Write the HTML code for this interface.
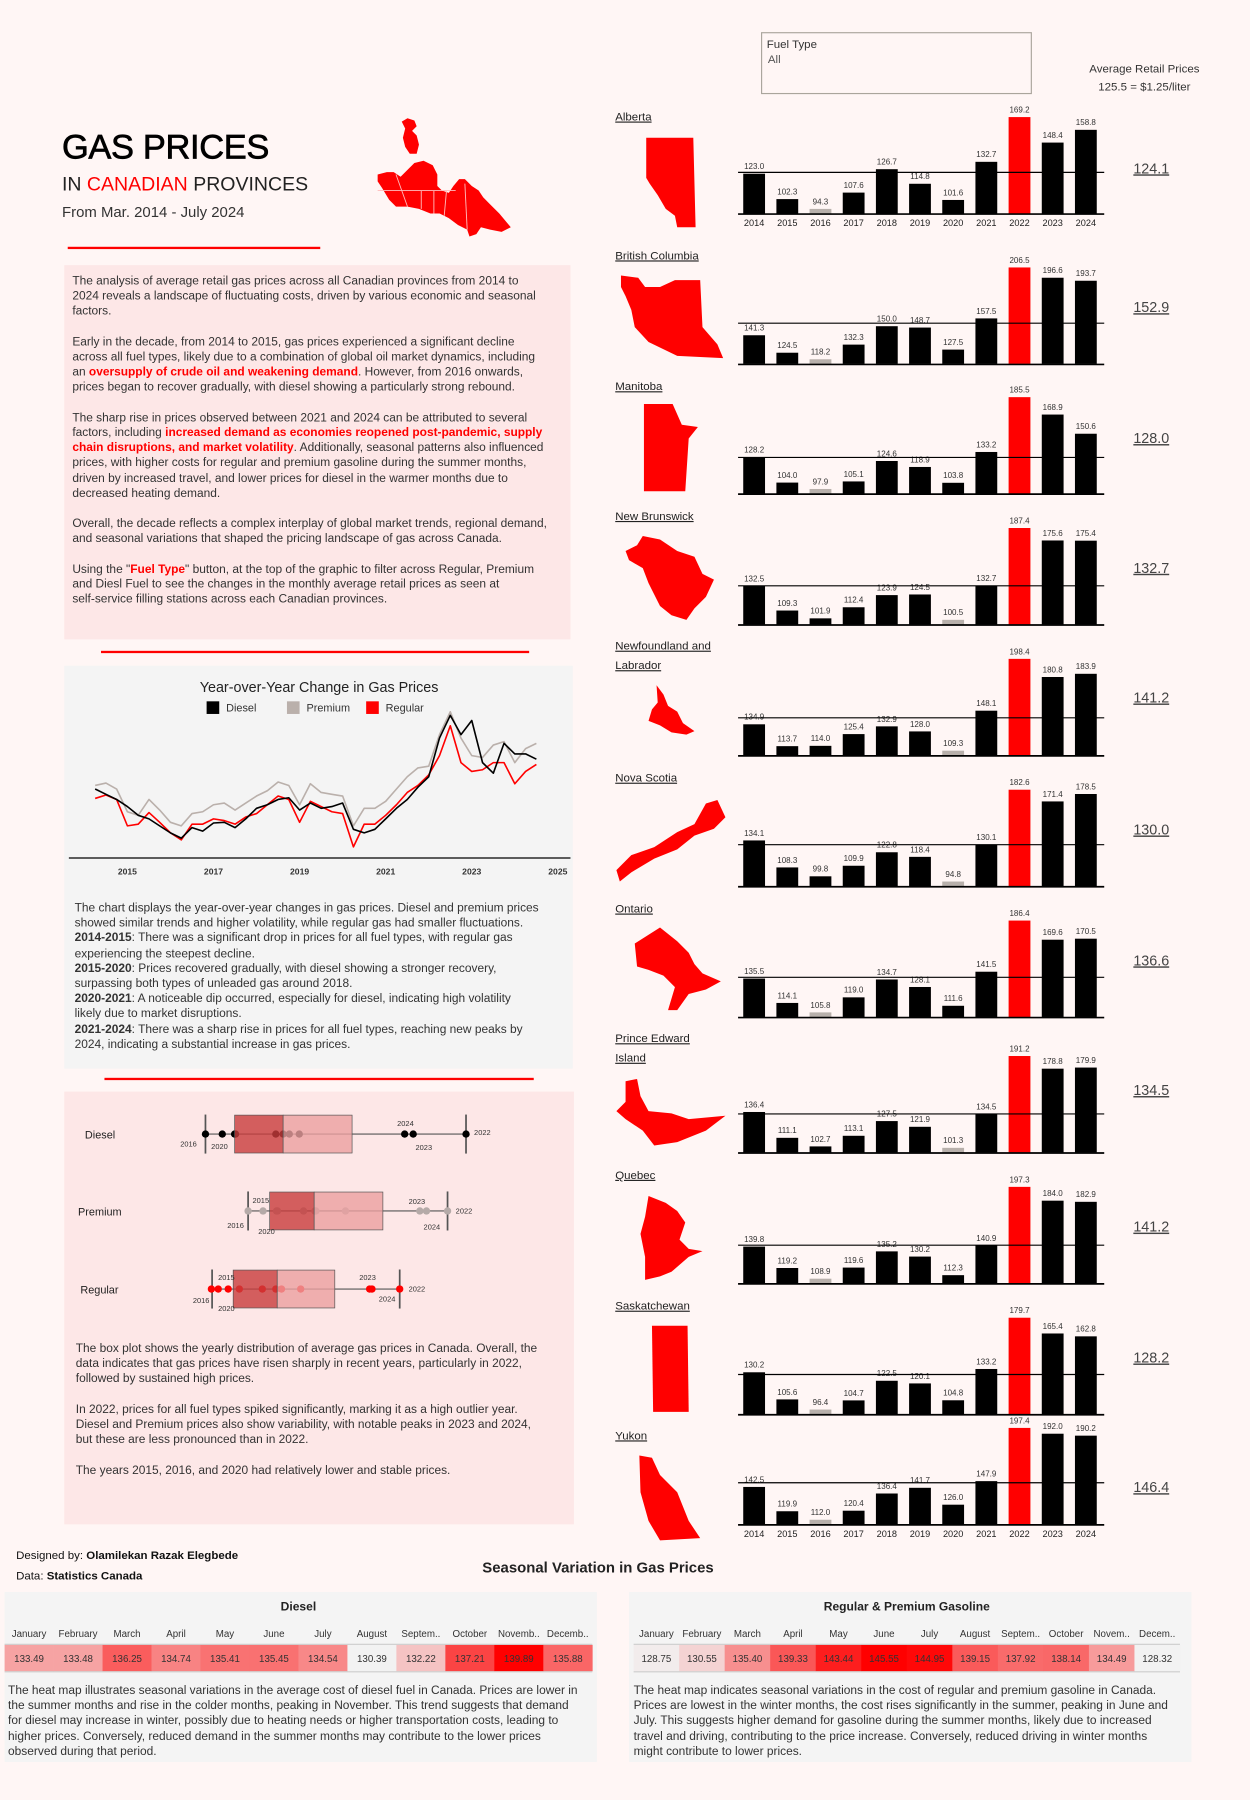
<!DOCTYPE html>
<html><head><meta charset="utf-8">
<style>
html,body{margin:0;padding:0;background:#fff6f5;}
body{width:1250px;height:1800px;overflow:hidden;font-family:"Liberation Sans",sans-serif;color:#222;}
#stage{position:absolute;left:0;top:0;width:1089px;height:1568px;transform:scale(1.14784);transform-origin:0 0;}
.abs{position:absolute;}
.para{font-size:10.4px;line-height:13.2px;color:#333;white-space:nowrap;}
.para p{margin:0 0 13.2px 0;}
.red{color:#f00;font-weight:bold;}
svg text{font-family:"Liberation Sans",sans-serif;}
</style></head>
<body>
<div id="stage">

<div class="abs" style="left:54px;top:112px;font-size:30px;color:#000;letter-spacing:-0.3px;-webkit-text-stroke:0.6px #000">GAS PRICES</div>
<div class="abs" style="left:54px;top:151px;font-size:17px;color:#222">IN <span style="color:#f00">CANADIAN</span> PROVINCES</div>
<div class="abs" style="left:54px;top:177px;font-size:13px;color:#333">From Mar. 2014 - July 2024</div>
<svg class="abs" style="left:325px;top:100px" width="125" height="110">
<polygon fill="#f00" points="25,6 30,3 36,5 38,10 34,14 38,18 40,26 38,34 32,34 28,28 26,20 28,12"/>
<polygon fill="#f00" points="4,52 12,50 18,50 24,54 30,48 36,42 44,40 52,44 56,52 56,62 60,66 66,68 70,62 75,56 80,56 86,62 92,66 96,72 102,78 110,86 120,98 112,102 102,100 94,98 90,104 84,106 82,100 74,96 66,90 58,86 50,86 40,82 30,80 20,80 14,74 8,64 4,58"/>
<line x1="4" y1="66" x2="72" y2="66" stroke="#fbb" stroke-width="0.8"/>
<line x1="20" y1="52" x2="30" y2="80" stroke="#fbb" stroke-width="0.8"/>
<line x1="42" y1="66" x2="42" y2="82" stroke="#fbb" stroke-width="0.8"/>
<line x1="53" y1="66" x2="53" y2="86" stroke="#fbb" stroke-width="0.8"/>
<line x1="64" y1="66" x2="62" y2="88" stroke="#fbb" stroke-width="0.8"/>
<line x1="80" y1="60" x2="82" y2="100" stroke="#fbb" stroke-width="0.8"/>
</svg>
<div class="abs" style="left:59px;top:215px;width:220px;height:2px;background:#f00"></div>

<div class="abs para" style="left:56px;top:231px;width:434px;height:318px;padding:8px 0 0 7px;background:#fde7e7">
<p>The analysis of average retail gas prices across all Canadian provinces from 2014 to<br>2024 reveals a landscape of fluctuating costs, driven by various economic and seasonal<br>factors.</p>
<p>Early in the decade, from 2014 to 2015, gas prices experienced a significant decline<br>across all fuel types, likely due to a combination of global oil market dynamics, including<br>an <span class="red">oversupply of crude oil and weakening demand</span>. However, from 2016 onwards,<br>prices began to recover gradually, with diesel showing a particularly strong rebound.</p>
<p>The sharp rise in prices observed between 2021 and 2024 can be attributed to several<br>factors, including <span class="red">increased demand as economies reopened post-pandemic, supply<br>chain disruptions, and market volatility</span>. Additionally, seasonal patterns also influenced<br>prices, with higher costs for regular and premium gasoline during the summer months,<br>driven by increased travel, and lower prices for diesel in the warmer months due to<br>decreased heating demand.</p>
<p>Overall, the decade reflects a complex interplay of global market trends, regional demand,<br>and seasonal variations that shaped the pricing landscape of gas across Canada.</p>
<p>Using the "<span class="red">Fuel Type</span>" button, at the top of the graphic to filter across Regular, Premium<br>and Diesl Fuel to see the changes in the monthly average retail prices as seen at<br>self-service filling stations across each Canadian provinces.</p>
</div>
<div class="abs" style="left:88px;top:567px;width:373px;height:2px;background:#f00"></div>

<div class="abs" style="left:56px;top:580px;width:443px;height:351px;background:#f4f4f4"></div>
<svg id="lineSvg" class="abs" style="left:0;top:0" width="1089" height="1568"></svg>
<div class="abs para" style="left:65px;top:785px">The chart displays the year-over-year changes in gas prices. Diesel and premium prices<br>showed similar trends and higher volatility, while regular gas had smaller fluctuations.<br><b>2014-2015</b>: There was a significant drop in prices for all fuel types, with regular gas<br>experiencing the steepest decline.<br><b>2015-2020</b>: Prices recovered gradually, with diesel showing a stronger recovery,<br>surpassing both types of unleaded gas around 2018.<br><b>2020-2021</b>: A noticeable dip occurred, especially for diesel, indicating high volatility<br>likely due to market disruptions.<br><b>2021-2024</b>: There was a sharp rise in prices for all fuel types, reaching new peaks by<br>2024, indicating a substantial increase in gas prices.</div>
<div class="abs" style="left:91px;top:939px;width:374px;height:2px;background:#f00"></div>

<div class="abs" style="left:56px;top:951px;width:444px;height:377px;background:#fde7e7"></div>
<svg id="boxSvg" class="abs" style="left:0;top:0" width="1089" height="1568"></svg>
<div class="abs para" style="left:66px;top:1169px"><p>The box plot shows the yearly distribution of average gas prices in Canada. Overall, the<br>data indicates that gas prices have risen sharply in recent years, particularly in 2022,<br>followed by sustained high prices.</p><p>In 2022, prices for all fuel types spiked significantly, marking it as a high outlier year.<br>Diesel and Premium prices also show variability, with notable peaks in 2023 and 2024,<br>but these are less pronounced than in 2022.</p><p>The years 2015, 2016, and 2020 had relatively lower and stable prices.</p></div>

<div class="abs" style="left:663px;top:28px;width:234px;height:52px;border:1px solid #aaa59c;font-size:10px;color:#333"><div style="padding:5px 0 0 4px">Fuel Type</div><div style="padding:2px 0 0 5px;color:#555">All</div></div>
<div class="abs" style="left:930px;top:53px;width:134px;text-align:center;font-size:10px;line-height:16px;color:#333">Average Retail Prices<br>125.5 = $1.25/liter</div>

<svg id="barSvg" class="abs" style="left:0;top:0" width="1089" height="1568"></svg>

<div class="abs" style="left:14px;top:1347px;font-size:10px;line-height:18px;color:#111">Designed by: <b>Olamilekan Razak Elegbede</b><br>Data: <b>Statistics Canada</b></div>
<div class="abs" style="left:400px;top:1358px;width:242px;text-align:center;font-size:13px;font-weight:bold;color:#222">Seasonal Variation in Gas Prices</div>
<div class="abs" style="left:4px;top:1387px;width:516px;height:148px;background:#f4f4f4"></div>
<div class="abs" style="left:548px;top:1387px;width:490px;height:148px;background:#f4f4f4"></div>
<svg id="heatSvg" class="abs" style="left:0;top:0" width="1089" height="1568"></svg>
<div class="abs para" style="left:7px;top:1467px">The heat map illustrates seasonal variations in the average cost of diesel fuel in Canada. Prices are lower in<br>the summer months and rise in the colder months, peaking in November. This trend suggests that demand<br>for diesel may increase in winter, possibly due to heating needs or higher transportation costs, leading to<br>higher prices. Conversely, reduced demand in the summer months may contribute to the lower prices<br>observed during that period.</div>
<div class="abs para" style="left:552px;top:1467px">The heat map indicates seasonal variations in the cost of regular and premium gasoline in Canada.<br>Prices are lowest in the winter months, the cost rises significantly in the summer, peaking in June and<br>July. This suggests higher demand for gasoline during the summer months, likely due to increased<br>travel and driving, contributing to the price increase. Conversely, reduced driving in winter months<br>might contribute to lower prices.</div>
</div>

<script>
// ---------- Province bar data ----------
const years = [2014,2015,2016,2017,2018,2019,2020,2021,2022,2023,2024];
const provinces = ["Alberta","British Columbia","Manitoba","New Brunswick","Newfoundland and|Labrador","Nova Scotia","Ontario","Prince Edward|Island","Quebec","Saskatchewan","Yukon"];
const valAB = [123.0,102.3,94.3,107.6,126.7,114.8,101.6,132.7,169.2,148.4,158.8];
const valBC = [141.3,124.5,118.2,132.3,150.0,148.7,127.5,157.5,206.5,196.6,193.7];
const valMB = [128.2,104.0,97.9,105.1,124.6,118.9,103.8,133.2,185.5,168.9,150.6];
const valNB = [132.5,109.3,101.9,112.4,123.9,124.5,100.5,132.7,187.4,175.6,175.4];
const valNL = [134.9,113.7,114.0,125.4,132.9,128.0,109.3,148.1,198.4,180.8,183.9];
const valNS = [134.1,108.3,99.8,109.9,122.8,118.4,94.8,130.1,182.6,171.4,178.5];
const valON = [135.5,114.1,105.8,119.0,134.7,128.1,111.6,141.5,186.4,169.6,170.5];
const valPE = [136.4,111.1,102.7,113.1,127.5,121.9,101.3,134.5,191.2,178.8,179.9];
const valQC = [139.8,119.2,108.9,119.6,135.2,130.2,112.3,140.9,197.3,184.0,182.9];
const valSK = [130.2,105.6,96.4,104.7,122.5,120.1,104.8,133.2,179.7,165.4,162.8];
const valYK = [142.5,119.9,112.0,120.4,136.4,141.7,126.0,147.9,197.4,192.0,190.2];
const provAverages = [124.1,152.9,128.0,132.7,141.2,130.0,136.6,134.5,141.2,128.2,146.4];
// ---------- Line chart data (quarterly from 2014.25) ----------
const lineDates = [2014.25,2014.5,2014.75,2015,2015.25,2015.5,2015.75,2016,2016.25,2016.5,2016.75,2017,2017.25,2017.5,2017.75,2018,2018.25,2018.5,2018.75,2019,2019.25,2019.5,2019.75,2020,2020.25,2020.5,2020.75,2021,2021.25,2021.5,2021.75,2022,2022.25,2022.5,2022.75,2023,2023.25,2023.5,2023.75,2024,2024.25,2024.5];
const dieselZ = [395,410,425,445,470,480,500,520,535,505,515,492,490,505,480,450,440,425,420,455,435,450,445,435,510,520,510,480,450,425,390,360,250,185,240,200,320,350,265,295,295,310];
const premiumZ = [385,378,395,460,470,425,455,490,500,465,460,440,435,455,435,415,400,375,385,440,380,405,410,415,500,450,450,430,395,360,335,330,240,175,250,300,305,270,260,320,280,265];
const regularZ = [422,412,425,500,495,462,490,520,540,495,495,480,485,495,475,465,440,415,425,490,430,445,460,465,560,495,495,470,440,405,385,355,300,215,320,345,340,320,320,380,345,325];
const conv = z => 70 + (590 - z) * 0.3023;
const dieselVals = dieselZ.map(conv), premiumVals = premiumZ.map(conv), regularVals = regularZ.map(conv);
const lineTicks = [2015,2017,2019,2021,2023,2025];
// ---------- Box plot data ----------
const boxFuels = ["Diesel","Premium","Regular"];
const boxDiesel = [95.0,102.1,107.3,107.7,124.7,127.8,130.4,134.6,179.1,182.7,205.0];
const boxPremium = [113.0,119.3,125.0,125.4,136.4,141.2,141.6,154.1,185.5,188.3,197.2];
const boxRegular = [97.5,100.4,104.6,109.3,119.0,124.7,127.1,135.2,164.3,165.3,177.0];
const boxStats = [[95.0,107.3,127.8,156.9,205.0],[113.0,122.1,140.9,169.9,197.2],[97.8,106.7,125.3,149.6,177.0]];
// ---------- Heatmap data ----------
const dieselMonths = ["January","February","March","April","May","June","July","August","Septem..","October","Novemb..","Decemb.."];
const gasMonths = ["January","February","March","April","May","June","July","August","Septem..","October","Novem..","Decem.."];
const dieselHeat = [133.49,133.48,136.25,134.74,135.41,135.45,134.54,130.39,132.22,137.21,139.89,135.88];
const gasHeat = [128.75,130.55,135.40,139.33,143.44,145.55,144.95,139.15,137.92,138.14,134.49,128.32];

const NS_ = "http://www.w3.org/2000/svg";
function mk(parent, tag, attrs, text){const e=document.createElementNS(NS_,tag);for(const k in attrs)e.setAttribute(k,attrs[k]);if(text!==undefined)e.textContent=text;parent.appendChild(e);return e;}

// ===== Province bars =====
const barSvg = document.getElementById('barSvg');
const provVals = [valAB,valBC,valMB,valNB,valNL,valNS,valON,valPE,valQC,valSK,valYK];
const labelYs = [101,222,336,449,562,677,791,904,1023,1137,1250];
const baseYs = [186,317,430,544,658,772,886,1004,1118,1232,1328];
const shapes = [
"563,120 604,120 606,198 590,198 588,188 580,182 573,170 566,160 563,155",
"541,240 556,242 562,250 575,250 588,244 610,244 612,285 625,300 630,312 590,310 565,298 553,285 550,270 545,258 541,250",
"561,352 586,352 594,370 608,372 600,382 597,428 561,428",
"560,467 575,470 590,480 605,485 612,500 622,505 615,520 605,530 598,540 585,536 575,528 565,508 560,495 548,488 545,480 555,475",
"572,597 578,605 582,615 590,620 595,630 605,637 598,640 585,638 575,632 565,628 568,618 573,612",
"537,758 550,745 570,738 590,725 605,718 615,700 625,697 632,712 622,722 605,728 590,740 570,748 550,760 540,768",
"575,808 590,820 600,830 605,840 612,848 628,855 615,862 600,866 590,880 582,880 588,860 578,850 565,845 555,842 553,822",
"545,942 555,940 558,955 565,968 585,970 600,975 632,972 615,985 590,995 570,998 560,985 545,975 537,968 545,960",
"565,1042 580,1048 590,1055 597,1065 592,1080 600,1088 612,1090 600,1095 585,1108 575,1112 562,1115 562,1095 558,1075 562,1060",
"568,1155 599,1155 600,1230 569,1230",
"557,1268 568,1270 575,1285 590,1300 600,1325 610,1340 575,1342 565,1325 558,1300"];
const xBar = i => 657 + i*28.9;
provinces.forEach((name,p)=>{
  const vals = provVals[p];
  const mn = Math.min(...vals), mx = Math.max(...vals);
  const base = baseYs[p];
  const h = v => 4 + (v-mn)/(mx-mn)*80;
  const parts = name.split('|');
  parts.forEach((t,k)=>{
    const tx = mk(barSvg,'text',{x:536,y:labelYs[p]+4+k*17,'font-size':10,fill:'#222','text-decoration':'underline'},t);
    
    
  });
  const shp = mk(barSvg,'polygon',{points:shapes[p],fill:'#f00'});
  
  
  vals.forEach((v,i)=>{
    const bh = h(v);
    const col = v===mx ? '#f00' : (v===mn ? '#b8b0ab' : '#000');
    const r = mk(barSvg,'rect',{x:xBar(i)-9.5,y:base-bh,width:19,height:bh,fill:col});
    
    
    const lb = mk(barSvg,'text',{x:xBar(i),y:base-bh-4,'font-size':7,'text-anchor':'middle',fill:'#333'},v.toFixed(1));
    
    
  });
  const ay = base - h(provAverages[p]);
  const al = mk(barSvg,'line',{x1:643,x2:962,y1:ay,y2:ay,stroke:'#000','stroke-width':1});
  
  
  const bl = mk(barSvg,'line',{x1:643,x2:962,y1:base+0.5,y2:base+0.5,stroke:'#000','stroke-width':1.5});
  
  
  const av = mk(barSvg,'text',{x:1003,y:labelYs[p]+50,'font-size':12.5,'text-anchor':'middle',fill:'#444','text-decoration':'underline'},provAverages[p].toFixed(1));
  
  
  if(p===0 || p===provinces.length-1){
    years.forEach((yr,i)=>{
      const t = mk(barSvg,'text',{x:xBar(i),y:base+11,'font-size':8,'text-anchor':'middle',fill:'#222'},yr);
      
      
    });
  }
});

// ===== Line chart =====
const ls = document.getElementById('lineSvg');
const lx = t => 111 + (t-2015)*37.5;
const ly = v => 747 - (v-70)*(131.5/130);
mk(ls,'text',{x:278,y:603,'font-size':12.5,'text-anchor':'middle',fill:'#222'},'Year-over-Year Change in Gas Prices');
const legendItems=[["Diesel","#000",180],["Premium","#bab0ab",250],["Regular","#f00",319]];
legendItems.forEach(([n,c,x])=>{
  const r = mk(ls,'rect',{x:x,y:611,width:11,height:11,fill:c});
  
  
  const t = mk(ls,'text',{x:x+17,y:620,'font-size':9.5,fill:'#333'},n);
  
  
});
const ax = mk(ls,'line',{x1:60,x2:497,y1:747.5,y2:747.5,stroke:'#000','stroke-width':1});


lineTicks.forEach(t=>{
  const e = mk(ls,'text',{x:lx(t),y:762,'font-size':7.5,'font-weight':'bold','text-anchor':'middle',fill:'#333'},t);
  
  
});
[[premiumVals,'#bab0ab','premium-line'],[regularVals,'#f00','regular-line'],[dieselVals,'#000','diesel-line']].forEach(([vals,c,n])=>{
  const d = vals.map((v,i)=>(i?'L':'M')+lx(lineDates[i]).toFixed(1)+','+ly(v).toFixed(1)).join(' ');
  const path = mk(ls,'path',{d:d,fill:'none',stroke:c,'stroke-width':1.4,'stroke-linejoin':'round'});
  
  
});

// ===== Box plot =====
const bs = document.getElementById('boxSvg');
const bx = v => 179 + (v-95)*(227/110);
const rowY = [988,1055,1123];
const ptColors = ['#000','#b5aaa8','#f00'];
const boxData = [boxDiesel,boxPremium,boxRegular];
boxFuels.forEach((f,k)=>{
  const y = rowY[k], s = boxStats[k];
  const lab = mk(bs,'text',{x:k===1?68:(k===0?74:70),y:y+4,'font-size':9.5,fill:'#222'},f);
  
  
  const wl = mk(bs,'line',{x1:bx(s[0]),x2:bx(s[4]),y1:y,y2:y,stroke:'#555','stroke-width':1});
  
  
  [s[0],s[4]].forEach(v=>{
    const c = mk(bs,'line',{x1:bx(v),x2:bx(v),y1:y-17,y2:y+17,stroke:'#555','stroke-width':1.5});
    
    
  });
  boxData[k].forEach(v=>{
    const c = mk(bs,'circle',{cx:bx(v),cy:y,r:3.2,fill:ptColors[k]});
    
    
  });
  const b1 = mk(bs,'rect',{x:bx(s[1]),y:y-16.5,width:bx(s[2])-bx(s[1]),height:33,fill:'rgba(200,60,60,0.8)',stroke:'#555','stroke-width':0.6});
  
  
  const b2 = mk(bs,'rect',{x:bx(s[2]),y:y-16.5,width:bx(s[3])-bx(s[2]),height:33,fill:'rgba(235,160,160,0.8)',stroke:'#555','stroke-width':0.6});
  
  
});
const yrLabels=[[0,157,999,'2016'],[0,184,1001,'2020'],[0,346,981,'2024'],[0,362,1002,'2023'],[0,413,989,'2022'],
 [1,220,1048,'2015'],[1,198,1070,'2016'],[1,225,1075,'2020'],[1,356,1049,'2023'],[1,369,1071,'2024'],[1,397,1057,'2022'],
 [2,190,1115,'2015'],[2,168,1135,'2016'],[2,190,1142,'2020'],[2,313,1115,'2023'],[2,330,1134,'2024'],[2,356,1125,'2022']];
yrLabels.forEach(([k,x,y,t])=>{
  const e = mk(bs,'text',{x:x,y:y,'font-size':6.5,fill:'#333'},t);
  
  
});

// ===== Heatmaps =====
const hs = document.getElementById('heatSvg');
function heat(months, vals, x0, w, title){
  const mn = Math.min(...vals), mx = Math.max(...vals);
  const cw = w/12;
  mk(hs,'text',{x:x0+w/2,y:1403,'font-size':10.5,'font-weight':'bold','text-anchor':'middle',fill:'#222'},title);
  months.forEach((m,i)=>{
    const t = mk(hs,'text',{x:x0+cw*i+cw/2,y:1426,'font-size':8.5,'text-anchor':'middle',fill:'#333'},m);
    
    
  });
  vals.forEach((v,i)=>{
    const f = (v-mn)/(mx-mn);
    const g = Math.round(242*(1-f)), r = Math.round(242+13*f);
    const c = mk(hs,'rect',{x:x0+cw*i,y:1433,width:cw+0.3,height:23,fill:`rgb(${r},${g},${g})`});
    
    
    const t = mk(hs,'text',{x:x0+cw*i+cw/2,y:1448,'font-size':8.5,'text-anchor':'middle',fill:'#333'},v.toFixed(2));
    
    
  });
  mk(hs,'line',{x1:x0,x2:x0+w,y1:1432.5,y2:1432.5,stroke:'#ccc'});
  mk(hs,'line',{x1:x0,x2:x0+w,y1:1456.5,y2:1456.5,stroke:'#ccc'});
}
heat(dieselMonths, dieselHeat, 4, 512, 'Diesel');
heat(gasMonths, gasHeat, 552, 476, 'Regular & Premium Gasoline');
</script>
</body></html>
